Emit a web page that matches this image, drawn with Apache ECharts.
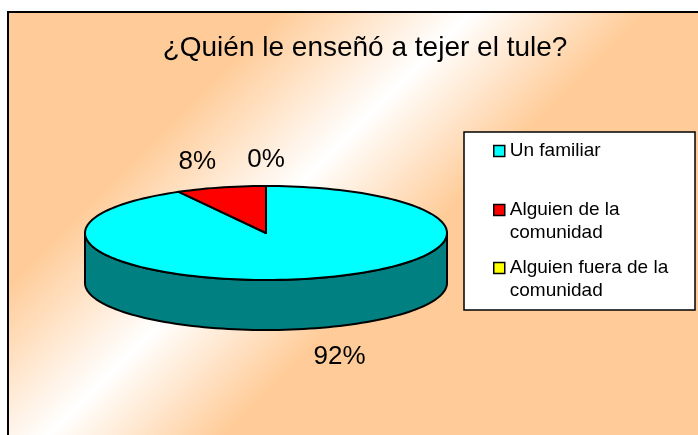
<!DOCTYPE html>
<html>
<head>
<meta charset="utf-8">
<script src="https://cdn.jsdelivr.net/npm/echarts@6/dist/echarts.min.js"></script>
<style>
    html, body { margin: 0; padding: 0; background: #fff; }
    #chart { width: 698px; height: 435px; }
</style>
</head>
<body>
<div id="chart"></div>
<script>
// Datos del gráfico
const categories = ["Un familiar", "Alguien de la comunidad", "Alguien fuera de la comunidad"];
const values = [92, 8, 0];
const topColors = ["#00ffff", "#ff0000", "#ffff00"];
const sideColors = ["#008080", "#800000", "#808000"];

const FONT = '"Liberation Sans", Arial, sans-serif';

// Geometría del pastel 3D (elipse + profundidad)
const cx = 266, cy = 233, rx = 181, ry = 47, depth = 50;
const total = values.reduce((a, b) => a + b, 0);

// punto sobre la elipse; ángulo en grados, en sentido horario desde las 12
function pt(deg, dy) {
    const r = deg * Math.PI / 180;
    return [cx + rx * Math.sin(r), cy - ry * Math.cos(r) + (dy || 0)];
}

function arc(a, b, dy) {
    const n = Math.max(2, Math.ceil(Math.abs(b - a) / 2));
    const pts = [];
    for (let k = 0; k <= n; k++) pts.push(pt(a + (b - a) * k / n, dy));
    return pts;
}

function renderSlice(params, api) {
    const i = params.seriesIndex;
    const v = api.value(0);
    let before = 0;
    for (let k = 0; k < i; k++) before += values[k];
    const a = before / total * 360;
    const b = (before + v) / total * 360;
    const children = [];
    const line = { stroke: "#000", lineWidth: 2, lineJoin: "round" };

    if (b > a) {
        // pared lateral visible (mitad delantera)
        const fa = Math.max(a, 90), fb = Math.min(b, 270);
        if (fb > fa) {
            const wall = arc(fa, fb, 0).concat(arc(fb, fa, depth));
            children.push({
                type: "polygon",
                shape: { points: wall },
                style: Object.assign({ fill: sideColors[i] }, line)
            });
        }
        // cara superior
        const top = [[cx, cy]].concat(arc(a, b, 0));
        children.push({
            type: "polygon",
            shape: { points: top },
            style: Object.assign({ fill: topColors[i] }, line)
        });
    }

    // etiqueta de porcentaje
    const mid = (a + b) / 2;
    const s = Math.sin(mid * Math.PI / 180), c = Math.cos(mid * Math.PI / 180);
    const p = pt(mid, c < 0 ? depth : 0);
    children.push({
        type: "text",
        style: {
            text: Math.round(v / total * 100) + "%",
            x: p[0] + s * (c < 0 ? 10 : 20),
            y: p[1] - c * (c < 0 ? 29 : 26),
            fill: "#000",
            font: "26px " + FONT,
            align: s < -0.1 ? "right" : (s > 0.1 ? "left" : "center"),
            verticalAlign: "middle"
        }
    });
    return { type: "group", children: children };
}

// leyenda: texto partido en dos líneas; líneas vacías delante para que
// la primera línea quede a la altura del icono
const lineH = 23;
const legendLineCenters = [151, 210, 268];
const wrapName = name => name.replace(" comunidad", "\ncomunidad");
const lineCount = name => wrapName(name).split("\n").length;

const myChart = echarts.init(document.getElementById("chart"));

myChart.setOption({
    animation: false,
    title: {
        text: "¿Quién le enseñó a tejer el tule?",
        left: 365,
        top: 34,
        textAlign: "center",
        padding: 0,
        textStyle: { fontSize: 28, fontWeight: "normal", color: "#000", fontFamily: FONT }
    },
    graphic: [
        {
            // fondo del área del gráfico con degradado diagonal
            type: "rect",
            z: -10,
            shape: { x: 8, y: 12, width: 720, height: 450 },
            style: {
                fill: new echarts.graphic.LinearGradient(0, 0, 700, 700, [
                    { offset: 0, color: "#ffcc99" },
                    { offset: 0.21, color: "#ffcc99" },
                    { offset: 0.345, color: "#ffffff" },
                    { offset: 0.47, color: "#ffcc99" },
                    { offset: 1, color: "#ffcc99" }
                ], true),
                stroke: "#000",
                lineWidth: 2
            }
        },
        {
            // recuadro de la leyenda
            type: "rect",
            z: -5,
            shape: { x: 464, y: 132, width: 231, height: 178 },
            style: { fill: "#fff", stroke: "#000", lineWidth: 1.5 }
        }
    ],
    legend: categories.map((name, i) => {
        const lines = lineCount(name);
        return {
            data: [name],
            orient: "vertical",
            left: 493,
            top: legendLineCenters[i] - (2 * lines - 1) * lineH / 2,
            padding: 0,
            icon: "rect",
            itemWidth: 11,
            itemHeight: 11,
            itemStyle: { borderColor: "#000", borderWidth: 1.5 },
            selectedMode: false,
            formatter: n => "\n".repeat(lineCount(n) - 1) + wrapName(n),
            textStyle: {
                fontSize: 19,
                lineHeight: lineH,
                color: "#000",
                fontFamily: FONT
            }
        };
    }),
    series: categories.map((name, i) => ({
        name: name,
        type: "custom",
        coordinateSystem: "none",
        itemStyle: { color: topColors[i] },
        data: [[values[i]]],
        renderItem: renderSlice
    }))
});
</script>
</body>
</html>
